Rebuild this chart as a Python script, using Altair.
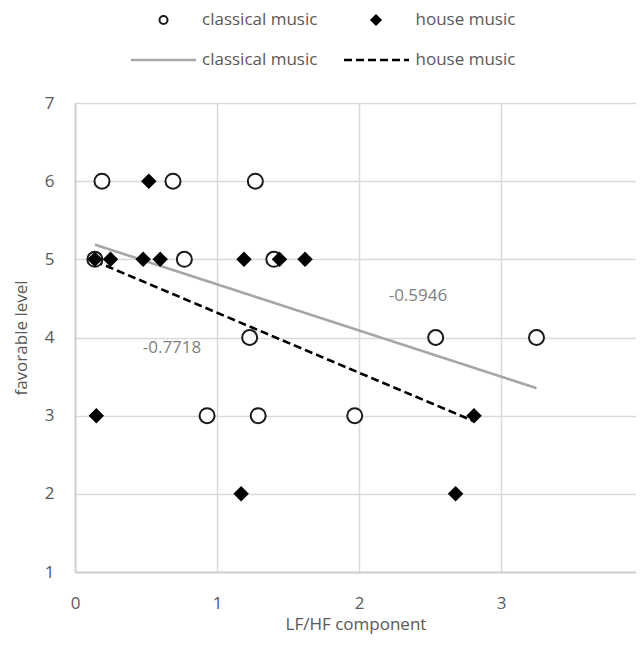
import altair as alt
import pandas as pd

# ---- data ----
classical_x = [0.19, 0.69, 1.27, 0.14, 0.77, 1.40, 1.23, 2.54, 3.25, 0.93, 1.29, 1.97]
classical_y = [6, 6, 6, 5, 5, 5, 4, 4, 4, 3, 3, 3]
house_x = [0.52, 0.14, 0.25, 0.48, 0.60, 1.19, 1.44, 1.62, 0.15, 2.81, 1.17, 2.68]
house_y = [6, 5, 5, 5, 5, 5, 5, 5, 3, 3, 2, 2]
series_names = ["classical music", "house music"]
annot_x = [2.415, 0.683]
annot_y = [4.53, 3.86]
annot_text = ["-0.5946", "-0.7718"]
x_ticks = [0, 1, 2, 3, 4]
y_ticks = [1, 2, 3, 4, 5, 6, 7]

FONT = "Open Sans"
TXT = "#595959"
GRID = "#d9d9d9"

df = pd.DataFrame({
    "x": classical_x + house_x,
    "y": classical_y + house_y,
    "series": [series_names[0]] * len(classical_x) + [series_names[1]] * len(house_x),
})
ann = pd.DataFrame({"x": annot_x, "y": annot_y, "t": annot_text})

# the reference's plot runs past the right edge of the picture: show 0..3.95 in 561 px (142 px per unit)
xs = alt.Scale(domain=[0, 3.9507], nice=False, zero=False)
ys = alt.Scale(domain=[1, 7], nice=False, zero=False)

xax = alt.Axis(values=x_ticks, format="d", title="LF/HF component", grid=True, gridColor=GRID, gridWidth=1.5,
               domainColor="#d0d0d0", domainWidth=2, ticks=False, labelPadding=23,
               labelFont=FONT, labelFontSize=17, labelColor=TXT, titleFont=FONT,
               titleFontSize=17, titleColor=TXT, titleFontWeight="normal", titlePadding=5,
               labelFlush=False, labelOverlap=False, labelBound=False)
yax = alt.Axis(values=y_ticks, format="d", title="favorable level", grid=True, gridColor=GRID, gridWidth=1.5,
               domainColor="#d0d0d0", domainWidth=2, ticks=False, labelPadding=21,
               labelFont=FONT, labelFontSize=17, labelColor=TXT, titleFont=FONT,
               titleFontSize=17, titleColor=TXT, titleFontWeight="normal", titlePadding=14,
               labelFlush=False, labelOverlap=False)

base = alt.Chart(df)

lines = base.transform_regression("x", "y", groupby=["series"], method="linear").mark_line(
    strokeWidth=2.6, clip=False
).encode(
    x=alt.X("x:Q", scale=xs, axis=xax),
    y=alt.Y("y:Q", scale=ys, axis=yax),
    color=alt.Color("series:N", scale=alt.Scale(domain=series_names, range=["#a6a6a6", "#000000"]), legend=None),
    strokeDash=alt.StrokeDash("series:N", scale=alt.Scale(domain=series_names, range=[[1, 0], [8, 4]]), legend=None),
)

circles = base.transform_filter(alt.datum.series == series_names[0]).mark_point(
    shape="circle", filled=False, fill="white", fillOpacity=1, stroke="#1a1a1a", strokeWidth=2,
    size=225, opacity=1
).encode(x=alt.X("x:Q", scale=xs), y=alt.Y("y:Q", scale=ys))

diamonds = base.transform_filter(alt.datum.series == series_names[1]).mark_point(
    shape="diamond", filled=True, color="#000000", size=240, opacity=1
).encode(x=alt.X("x:Q", scale=xs), y=alt.Y("y:Q", scale=ys))

annots = alt.Chart(ann).mark_text(font=FONT, fontSize=17, color="#7f7f7f", align="center", baseline="middle").encode(
    x=alt.X("x:Q", scale=xs), y=alt.Y("y:Q", scale=ys), text="t:N"
)

one = alt.Chart(pd.DataFrame({"k": [0]}))
leg_circle = one.mark_point(shape="circle", filled=False, stroke="#1a1a1a", strokeWidth=2, size=64, opacity=1).encode(
    x=alt.value(88.5), y=alt.value(-83))
leg_diamond = one.mark_point(shape="diamond", filled=True, color="#000000", size=150, opacity=1).encode(
    x=alt.value(301), y=alt.value(-83))
leg_solid = one.mark_rule(color="#a6a6a6", strokeWidth=2.6).encode(
    x=alt.value(56), x2=alt.value(121), y=alt.value(-43))
leg_dash = one.mark_rule(color="#000000", strokeWidth=2.6, strokeDash=[8, 4]).encode(
    x=alt.value(269), x2=alt.value(334), y=alt.value(-43))
leg_texts = []
for lx, ly, lt in [(127, -83, series_names[0]), (340.5, -83, series_names[1]),
                   (127, -43, series_names[0]), (340.5, -43, series_names[1])]:
    leg_texts.append(one.mark_text(font=FONT, fontSize=17, color=TXT, align="left", baseline="middle",
                                   text=lt).encode(x=alt.value(lx), y=alt.value(ly)))

chart = alt.layer(lines, circles, diamonds, annots, leg_circle, leg_diamond, leg_solid, leg_dash, *leg_texts).properties(
    width=561, height=469,
    autosize=alt.AutoSizeParams(type="none"),
    padding={"left": 67, "top": 95, "right": 0, "bottom": 64},
).configure_view(stroke=None)

chart.save("out.html", embed_options={"renderer": "svg", "actions": False})
